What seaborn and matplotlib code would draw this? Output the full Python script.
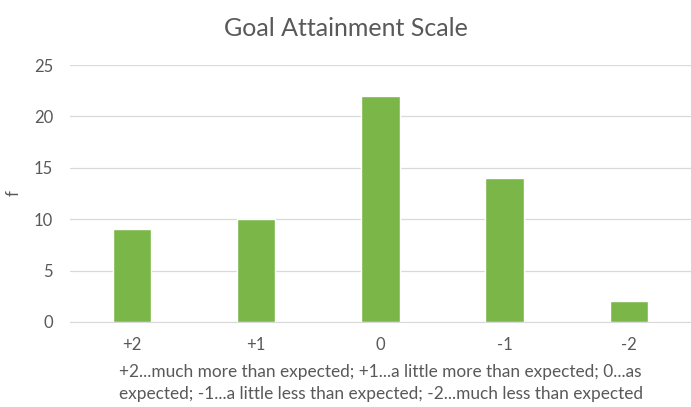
import matplotlib
matplotlib.use("Agg")
import matplotlib.pyplot as plt
import seaborn as sns
import pandas as pd

categories = ["+2", "+1", "0", "-1", "-2"]
counts = [9, 10, 22, 14, 2]
y_ticks = [0, 5, 10, 15, 20, 25]

title = "Goal Attainment Scale"
x_note = ("+2...much more than expected; +1...a little more than expected; 0...as\n"
          "expected; -1...a little less than expected; -2...much less than expected")

sns.set_style("white")
plt.rcParams["font.family"] = ["Lato", "DejaVu Sans"]

gray = "#595959"
df = pd.DataFrame({"score": categories, "f": counts})

fig = plt.figure(figsize=(6.91, 4.07), dpi=100)
ax = fig.add_axes([0.101, 0.209, 0.899, 0.631])

sns.barplot(data=df, x="score", y="f", color="#7ab648", width=0.31,
            saturation=1, ax=ax, zorder=3)

ax.set_ylim(0, 25)
ax.set_yticks(y_ticks)
ax.set_xlim(-0.5, 4.5)
ax.yaxis.grid(True, color="#d9d9d9", linewidth=0.9, zorder=0)
for side in ["top", "right", "left"]:
    ax.spines[side].set_visible(False)
ax.spines["bottom"].set_color("#d9d9d9")
ax.tick_params(axis="both", length=0, colors=gray, labelsize=12, pad=12)
ax.tick_params(axis="x", pad=11)
ax.set_xlabel("")
ax.set_ylabel("f", color=gray, fontsize=12, labelpad=9)

fig.text(0.5, 0.93, title, ha="center", va="center", fontsize=18, color=gray)
fig.text(119 / 691, 1 - 383 / 407, x_note, ha="left", va="center",
         fontsize=12.4, color=gray, linespacing=1.4)

fig.savefig("out.png", dpi=100)
